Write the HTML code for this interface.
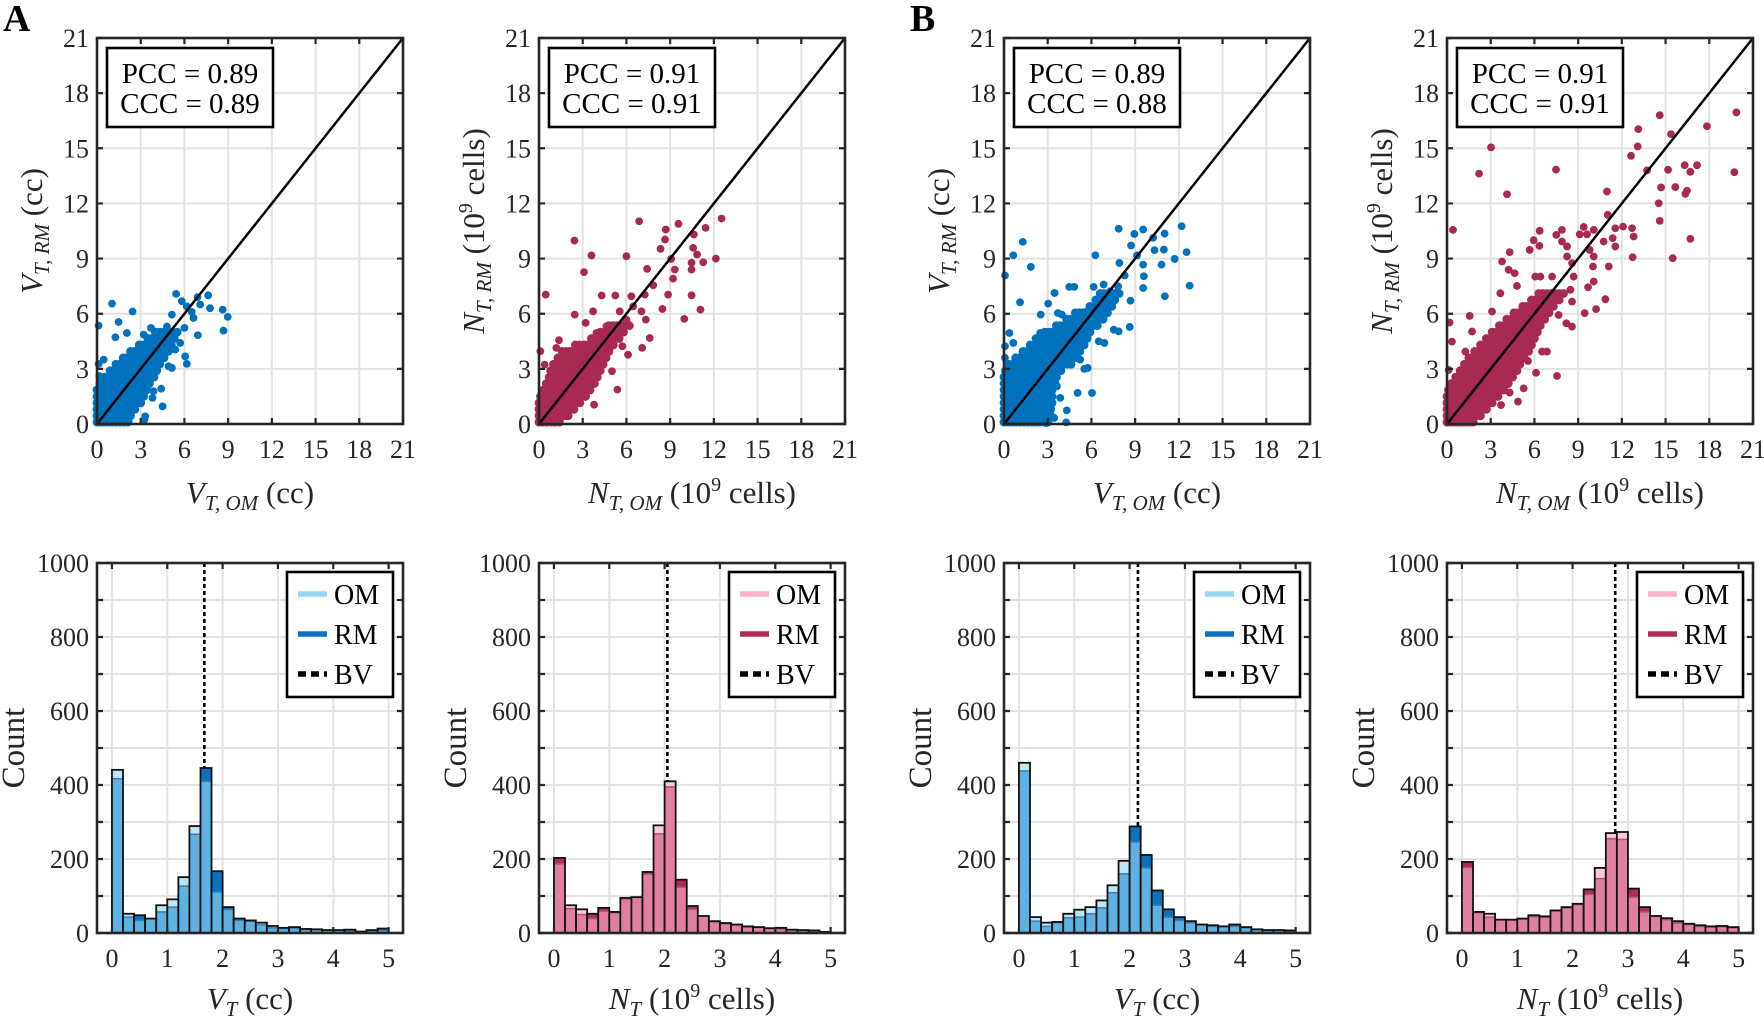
<!DOCTYPE html>
<html><head><meta charset="utf-8"><title>OM vs RM comparison</title>
<style>
html,body{margin:0;padding:0;background:#fff;}
svg,svg text,svg tspan{font-family:"Liberation Serif","DejaVu Serif",serif;}
svg{display:block;}
</style></head>
<body>
<svg id="fig" width="1764" height="1021" viewBox="0 0 1764 1021" font-family="Liberation Serif, DejaVu Serif, serif"></svg>
<script>
// ---------- DATA ----------
const scatterTicks=[0,3,6,9,12,15,18,21];
const histXTicks=[0,1,2,3,4,5];
const histYTickLabels=[0,200,400,600,800,1000];
const histGrid=[0,100,200,300,400,500,600,700,800,900,1000];

// Panel A scatter 1 (V): outliers [x,y]
const s1Points=[[5.43,7.08],[7.63,7.0],[1.03,6.55],[2.44,6.12],[0.11,5.35],[1.48,5.55],[2.05,4.95],[1.26,4.72],[7.76,6.3],[8.63,6.22],[8.97,5.83],[8.68,5.08],[6.92,4.83],[7.08,6.5],[6.62,5.77],[6.16,6.4],[5.82,6.68],[5.14,5.95],[6.0,5.23],[6.05,3.68],[6.16,3.27],[5.14,3.05],[4.91,3.14],[4.5,0.96],[4.41,1.92],[3.88,1.78],[3.81,1.42],[3.31,0.42],[3.26,0.24],[0.16,2.6],[0.11,3.27],[0.46,3.5],[2.17,0.15],[3.7,5.23],[3.2,4.86],[4.8,5.3],[5.71,4.41],[5.37,4.05],[4.11,4.77],[4.57,3.87],[6.9,6.9],[6.5,6.1]];
// dense region rows: [y, xStart, xEnd]
const s1Bands=[[0.1,0,2.1],[0.45,0,2.3],[0.8,0,2.6],[1.15,0,3.0],[1.5,0,3.2],[1.85,0,3.4],[2.2,0.2,3.6],[2.55,0.5,3.9],[2.9,0.9,4.1],[3.25,1.3,4.3],[3.6,1.8,4.6],[3.95,2.3,4.9],[4.3,2.9,5.1],[4.65,3.5,5.3],[5.0,4.0,5.5]];

// Panel A scatter 2 (N)
const s2Points=[[6.87,11.03],[2.43,9.98],[3.6,9.17],[6.0,9.13],[3.09,8.26],[0.46,7.04],[9.57,10.89],[8.7,10.58],[8.65,10.04],[8.34,9.53],[12.53,11.18],[11.43,10.67],[10.63,10.31],[10.58,9.58],[10.85,9.22],[10.47,8.77],[10.47,8.4],[11.27,8.8],[12.14,9.0],[9.07,8.98],[9.32,8.4],[9.2,7.91],[8.86,7.04],[8.47,6.26],[10.47,7.0],[9.97,5.72],[11.08,6.22],[7.42,8.44],[7.84,7.55],[7.26,7.04],[7.03,6.13],[7.33,5.68],[7.6,4.68],[7.08,4.14],[2.45,5.95],[3.2,5.5],[3.71,6.13],[4.3,6.99],[5.24,6.99],[5.54,6.13],[6.34,6.95],[6.46,6.4],[6.0,5.68],[5.38,1.87],[3.78,1.05],[5.01,2.87],[6.11,3.77],[0.09,3.96],[0.39,3.23],[1.37,4.56],[1.19,4.14],[5.72,4.23],[4.63,5.32],[3.94,4.95]];
const s2Bands=[[0.1,0,1.4],[0.45,0,2.0],[0.8,0,2.4],[1.15,0,2.8],[1.5,0.1,3.2],[1.85,0.3,3.5],[2.2,0.5,3.8],[2.55,0.7,4.0],[2.9,0.8,4.2],[3.25,1.0,4.4],[3.6,1.3,4.6],[3.95,1.6,4.8],[4.3,2.5,5.1],[4.65,3.6,5.5],[5.0,4.2,5.8],[5.35,4.8,6.2]];

// Panel B scatter 3 (V)
const s3Points=[[1.29,9.91],[0.64,9.18],[0.07,8.08],[1.84,8.55],[1.1,6.62],[6.27,9.18],[7.87,10.62],[9.55,10.58],[8.95,10.34],[8.72,9.71],[9.13,9.17],[10.24,10.13],[10.33,9.46],[11.02,10.36],[10.97,9.49],[10.81,8.67],[11.71,8.98],[12.19,10.76],[12.53,9.35],[12.74,7.53],[11.04,6.95],[9.55,8.67],[9.6,8.04],[9.55,7.4],[8.68,6.71],[8.63,5.28],[7.92,8.76],[8.28,8.08],[7.83,7.49],[7.3,7.22],[6.84,7.59],[6.15,7.46],[4.82,7.46],[4.48,7.46],[3.47,7.13],[3.03,6.55],[2.52,5.95],[3.7,6.04],[3.97,5.95],[7.87,5.04],[7.53,5.13],[6.89,4.41],[6.5,4.5],[5.74,3.05],[5.51,3.0],[5.05,1.69],[6.04,1.69],[4.31,0.74],[4.27,0.09],[3.44,0.33],[2.89,0.05],[2.36,0.15],[3.63,2.05],[3.86,1.42],[0.07,4.23],[0.37,4.95],[0.64,4.41],[0.07,3.6],[1.0,3.5],[5.0,4.68],[5.23,5.68],[5.69,6.13],[4.31,5.04],[3.86,3.87],[5.23,3.5],[2.48,4.95]];
const s3Bands=[[0.1,0,3.0],[0.45,0,3.2],[0.8,0,3.2],[1.15,0,3.3],[1.5,0,3.3],[1.85,0,3.3],[2.2,0,3.5],[2.55,0,3.6],[2.9,0.1,3.9],[3.25,0.3,4.6],[3.6,0.8,5.0],[3.95,1.3,5.2],[4.3,1.8,5.5],[4.65,2.2,5.7],[5.0,2.8,5.9],[5.35,3.6,6.4],[5.7,4.3,6.8],[6.05,4.9,7.1],[6.4,5.9,7.4],[6.75,6.3,7.6],[7.1,6.6,7.9]];

// Panel B scatter 4 (N)
const s4Points=[[3.02,15.05],[2.2,13.62],[4.12,12.5],[0.41,10.56],[7.48,13.84],[14.6,16.8],[13.13,16.04],[13.09,15.1],[12.63,14.59],[15.37,15.77],[13.73,13.8],[15.17,13.83],[16.31,14.08],[17.16,14.08],[16.7,13.72],[17.84,16.2],[19.86,16.95],[19.72,13.7],[14.69,12.87],[15.67,12.89],[16.47,12.69],[16.36,12.52],[14.53,12.01],[14.6,11.05],[15.49,9.02],[16.7,10.07],[10.98,12.65],[11.03,11.38],[12.08,10.74],[12.7,10.65],[12.81,10.2],[12.74,9.07],[11.55,10.65],[11.37,10.11],[11.55,9.66],[10.75,9.93],[10.07,10.56],[9.38,10.72],[9.61,10.32],[9.11,10.32],[9.79,9.47],[10.07,9.11],[10.02,8.57],[11.1,8.57],[10.07,7.75],[9.68,7.44],[9.45,6.03],[10.23,6.25],[10.87,6.79],[7.89,10.56],[7.5,10.29],[6.36,10.51],[5.67,9.47],[6.34,9.69],[5.95,10.0],[4.3,9.35],[3.78,8.84],[4.23,8.39],[4.64,8.2],[4.8,7.51],[3.66,7.11],[6.41,8.02],[7.21,8.02],[7.89,9.93],[8.24,9.66],[8.24,9.11],[8.58,8.75],[8.69,8.02],[8.47,7.3],[8.58,6.66],[8.58,5.3],[8.19,5.48],[7.66,5.93],[7.55,2.61],[6.11,2.79],[5.26,1.94],[4.87,1.22],[4.3,1.71],[3.71,1.03],[0.18,5.52],[0.34,4.48],[0.11,2.94],[1.56,5.88],[1.72,5.03],[1.26,3.94],[3.09,6.12],[6.06,8.02],[6.86,3.94],[6.52,3.94],[5.56,3.43],[5.72,4.94],[4.8,5.75]];
const s4Bands=[[0.1,0,1.8],[0.45,0,2.3],[0.8,0,2.7],[1.15,0,3.1],[1.5,0,3.5],[1.85,0.1,3.9],[2.2,0.3,4.2],[2.55,0.6,4.5],[2.9,0.9,4.8],[3.25,1.2,5.0],[3.6,1.5,5.3],[3.95,1.9,5.6],[4.3,2.3,5.8],[4.65,2.7,6.0],[5.0,3.1,6.2],[5.35,3.6,6.4],[5.7,4.1,6.7],[6.05,4.6,7.0],[6.4,5.2,7.3],[6.75,5.8,7.7],[7.1,6.3,8.0]];

const statPCC=["0.89","0.91","0.89","0.91"];
const statCCC=["0.89","0.91","0.88","0.91"];

// Histograms: 25 bins of width 0.2 from 0 to 5
const binStart=0, binWidth=0.2;
const h1OM=[441,52,34,39,75,91,151,289,410,111,63,34,34,28,19,14,12,11,10,8,8,6,4,8,7];
const h1RM=[417,43,48,39,57,70,127,267,446,167,70,39,32,22,14,12,16,9,9,7,7,9,3,6,12];
const h2OM=[187,75,64,39,59,57,95,97,159,291,410,124,64,46,32,27,23,18,16,13,11,9,8,7,3];
const h2RM=[203,66,50,52,68,55,92,97,165,268,395,144,73,46,30,25,22,16,15,12,14,8,7,6,3];
const h3OM=[460,43,28,28,52,63,70,88,129,195,246,176,75,43,34,28,22,18,17,18,14,9,7,7,5];
const h3RM=[438,32,18,30,41,43,52,68,109,160,288,211,115,64,43,32,23,21,18,23,16,10,8,8,7];
const h4OM=[177,57,52,36,36,39,44,45,61,70,79,104,176,270,273,97,57,46,40,27,23,18,16,17,14];
const h4RM=[192,55,43,36,36,38,48,42,60,68,77,118,147,255,253,120,70,45,36,32,25,21,18,19,16];
const bvValues=[1.67,2.05,2.15,2.77];

// ---------- RENDER ----------
const svg=document.getElementById('fig');
const FONT='"Liberation Serif","DejaVu Serif",serif';
function mk(parent,tag,a){const el=document.createElementNS(svg.namespaceURI,tag);for(const k in a)el.setAttribute(k,a[k]);if(tag==='text')el.style.fontFamily=FONT;parent.appendChild(el);return el;}
function tsp(t,str,a){const s=mk(t,'tspan',a||{});s.textContent=str;return s;}

const lefts=[97,539,1004,1447];
const W=306;
const sTop=38,sBot=424,hTop=563,hBot=933;
const hMin=-0.27,hMax=5.26;
const INK='#262626';

function drawScatter(idx,pts,bands,color,isN){
  const L=lefts[idx];
  const X=v=>L+v/21*W, Y=v=>sBot-v/21*(sBot-sTop);
  const g=mk(svg,'g',{});
  
  
  for(const t of scatterTicks){
    const gv=mk(g,'line',{x1:X(t),x2:X(t),y1:sTop,y2:sBot,stroke:'#e2e2e2','stroke-width':2});
    
    
    const gh=mk(g,'line',{x1:L,x2:L+W,y1:Y(t),y2:Y(t),stroke:'#e2e2e2','stroke-width':2});
    
    
  }
  for(const b of bands){
    const px0=X(b[1]),px1=X(b[2]);
    const n=Math.max(1,Math.round((px1-px0)/4));
    for(let i=0;i<=n;i++){
      const v=b[1]+(b[2]-b[1])*i/n;
      const c=mk(g,'circle',{cx:X(v),cy:Y(b[0]),r:4.4,fill:color});
      
      
    }
  }
  for(const p of pts){
    const c=mk(g,'circle',{cx:X(p[0]),cy:Y(p[1]),r:3.9,fill:color});
    
    
  }
  const d=mk(g,'line',{x1:X(0),y1:Y(0),x2:X(21),y2:Y(21),stroke:'#000','stroke-width':2.5});
  
  
  const box=mk(g,'rect',{x:L,y:sTop,width:W,height:sBot-sTop,fill:'none',stroke:INK,'stroke-width':2.6});
  
  
  for(const t of scatterTicks){
    const tk=mk(g,'path',{d:`M${X(t)},${sBot}v-6M${X(t)},${sTop}v6M${L},${Y(t)}h6M${L+W},${Y(t)}h-6`,stroke:INK,'stroke-width':2.2});
    
    
    const xl=mk(g,'text',{x:X(t),y:458,'text-anchor':'middle','font-size':26,fill:INK});
    xl.textContent=t;
    
    
    const yl=mk(g,'text',{x:L-8,y:Y(t)+9,'text-anchor':'end','font-size':26,fill:INK});
    yl.textContent=t;
    
    
  }
  const sb=mk(g,'rect',{x:L+10,y:48,width:166,height:79,fill:'#fff',stroke:'#000','stroke-width':2.6});
  
  
  const p1=mk(g,'text',{x:L+93,y:83,'text-anchor':'middle','font-size':29,fill:'#000'});
  p1.textContent='PCC = '+statPCC[idx];
  
  
  const p2=mk(g,'text',{x:L+93,y:113,'text-anchor':'middle','font-size':29,fill:'#000'});
  p2.textContent='CCC = '+statCCC[idx];
  
  
  const xt=mk(g,'text',{x:L+W/2,y:503,'text-anchor':'middle','font-size':31,fill:INK});
  
  
  const yt=mk(g,'text',{x:0,y:0,'text-anchor':'middle','font-size':31,fill:INK,transform:`translate(${L-55},${(sTop+sBot)/2}) rotate(-90)`});
  
  
  for(const [t,sub] of [[xt,'T, OM'],[yt,'T, RM']]){
    tsp(t,isN?'N':'V',{'font-style':'italic'});
    tsp(t,sub,{'font-style':'italic','font-size':21,dy:7});
    if(isN){tsp(t,' (10',{dy:-7});tsp(t,'9',{'font-size':20,dy:-12});tsp(t,' cells)',{dy:12});}
    else{tsp(t,' (cc)',{dy:-7});}
  }
}

function drawHist(idx,om,rm,pal,isN){
  const L=lefts[idx];
  const X=v=>L+(v-hMin)/(hMax-hMin)*W, Y=c=>hBot-c/1000*(hBot-hTop);
  const g=mk(svg,'g',{});
  
  
  for(const t of histXTicks){
    const gv=mk(g,'line',{x1:X(t),x2:X(t),y1:hTop,y2:hBot,stroke:'#e2e2e2','stroke-width':2});
    
    
  }
  for(const t of histGrid){
    const gh=mk(g,'line',{x1:L,x2:L+W,y1:Y(t),y2:Y(t),stroke:'#e2e2e2','stroke-width':2});
    
    
  }
  const bv=mk(g,'line',{x1:X(bvValues[idx]),x2:X(bvValues[idx]),y1:hTop,y2:hBot,stroke:'#000','stroke-width':2.6,'stroke-dasharray':'4 3'});
  
  
  for(let i=0;i<om.length;i++){
    const a=binStart+i*binWidth,b=a+binWidth;
    const lo=Math.min(om[i],rm[i]),hi=Math.max(om[i],rm[i]);
    const r1=mk(g,'rect',{x:X(a),y:Y(lo),width:X(b)-X(a),height:Y(0)-Y(lo),fill:pal.both});
    
    
    const r2=mk(g,'rect',{x:X(a),y:Y(hi),width:X(b)-X(a),height:Y(lo)-Y(hi),fill:om[i]>rm[i]?pal.om:pal.rm});
    
    
    if(hi>lo){
      const ln=mk(g,'line',{x1:X(a),x2:X(b),y1:Y(lo),y2:Y(lo),stroke:pal.sep,'stroke-width':1.5});
      
      
    }
    const r3=mk(g,'rect',{x:X(a),y:Y(hi),width:X(b)-X(a),height:Y(0)-Y(hi),fill:'none',stroke:'#111','stroke-width':1.8});
    
    
  }
  const box=mk(g,'rect',{x:L,y:hTop,width:W,height:hBot-hTop,fill:'none',stroke:INK,'stroke-width':2.6});
  
  
  for(const t of histXTicks){
    const tk=mk(g,'path',{d:`M${X(t)},${hBot}v-6M${X(t)},${hTop}v6`,stroke:INK,'stroke-width':2.2});
    
    
    const xl=mk(g,'text',{x:X(t),y:967,'text-anchor':'middle','font-size':26,fill:INK});
    xl.textContent=t;
    
    
  }
  for(const t of histGrid){
    const tk=mk(g,'path',{d:`M${L},${Y(t)}h6M${L+W},${Y(t)}h-6`,stroke:INK,'stroke-width':2.2});
    
    
  }
  for(const t of histYTickLabels){
    const yl=mk(g,'text',{x:L-8,y:Y(t)+9,'text-anchor':'end','font-size':26,fill:INK});
    yl.textContent=t;
    
    
  }
  const lg=mk(g,'rect',{x:L+190,y:572,width:106,height:125,fill:'#fff',stroke:'#000','stroke-width':2.6});
  
  
  const entries=[['OM',pal.omL,''],['RM',pal.rm,''],['BV','#000','8 5']];
  entries.forEach((e,k)=>{
    const yy=594+k*40;
    const sw=mk(g,'line',{x1:L+201,x2:L+230,y1:yy,y2:yy,stroke:e[1],'stroke-width':5.5,'stroke-dasharray':e[2]||'none'});
    
    
    const lt=mk(g,'text',{x:L+237,y:yy+10,'font-size':28,fill:'#000'});
    lt.textContent=e[0];
    
    
  });
  const yt=mk(g,'text',{x:0,y:0,'text-anchor':'middle','font-size':33,fill:INK,transform:`translate(${L-73},${(hTop+hBot)/2}) rotate(-90)`});
  yt.textContent='Count';
  
  
  const xt=mk(g,'text',{x:L+W/2,y:1009,'text-anchor':'middle','font-size':31,fill:INK});
  
  
  tsp(xt,isN?'N':'V',{'font-style':'italic'});
  tsp(xt,'T',{'font-style':'italic','font-size':21,dy:7});
  if(isN){tsp(xt,' (10',{dy:-7});tsp(xt,'9',{'font-size':20,dy:-12});tsp(xt,' cells)',{dy:12});}
  else{tsp(xt,' (cc)',{dy:-7});}
}

const BLUE='#0072bd', RED='#a82a52';
const palBlue={both:'#5eb1e1',om:'#bee5f6',rm:'#0b72bf',sep:'#3a7fae',omL:'#9ad6f2'};
const palPink={both:'#e07fa0',om:'#fbc9da',rm:'#b02b57',sep:'#a85578',omL:'#fbb0cb'};

drawScatter(0,s1Points,s1Bands,BLUE,false);
drawScatter(1,s2Points,s2Bands,RED,true);
drawScatter(2,s3Points,s3Bands,BLUE,false);
drawScatter(3,s4Points,s4Bands,RED,true);
drawHist(0,h1OM,h1RM,palBlue,false);
drawHist(1,h2OM,h2RM,palPink,true);
drawHist(2,h3OM,h3RM,palBlue,false);
drawHist(3,h4OM,h4RM,palPink,true);

const la=mk(svg,'text',{x:3,y:31,'font-size':38,'font-weight':'bold',fill:'#000'});
la.textContent='A';


const lb=mk(svg,'text',{x:910,y:31,'font-size':38,'font-weight':'bold',fill:'#000'});
lb.textContent='B';


</script>
</body></html>
